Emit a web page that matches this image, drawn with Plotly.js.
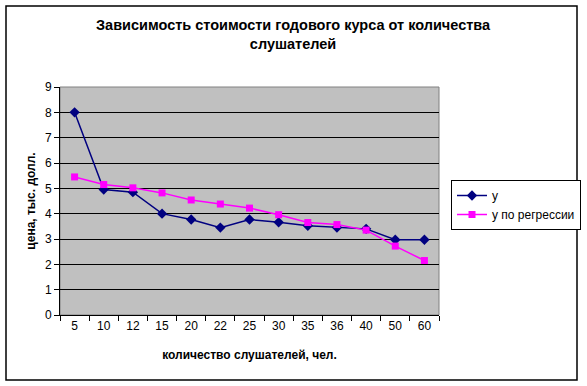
<!DOCTYPE html>
<html><head><meta charset="utf-8">
<script src="https://cdn.plot.ly/plotly-3.0.1.min.js"></script>
<style>html,body{margin:0;padding:0;background:#fff;}#chart{width:587px;height:386px;}</style>
</head><body><div id="chart"></div>
<script>
const categories = ["5","10","12","15","20","22","25","30","35","36","40","50","60"];
const yActual = [8, 4.95, 4.85, 4.0, 3.77, 3.45, 3.77, 3.66, 3.52, 3.45, 3.4, 2.97, 2.97];
const yRegression = [5.45, 5.15, 5.02, 4.82, 4.54, 4.38, 4.22, 3.96, 3.65, 3.57, 3.35, 2.72, 2.15];
const seriesNames = ["y", "y по регрессии"];
const titleText = 'Зависимость стоимости годового курса от количества<br>слушателей';

const L=60, R=439, T=87, B=315;
const W=587, H=386;
const pw=R-L, ph=B-T;
function px(x){return (x-L)/pw;}
function py(y){return (B-y)/ph;}

const traces = [
  {x: categories, y: yActual, name: seriesNames[0], type:'scatter', mode:'lines+markers',
   line:{color:'#000080', width:1.5}, marker:{symbol:'diamond', size:8, color:'#000080'}},
  {x: categories, y: yRegression, name: seriesNames[1], type:'scatter', mode:'lines+markers',
   line:{color:'#FF00FF', width:1.5}, marker:{symbol:'square', size:7, color:'#FF00FF'}}
];

const layout = {
  width: W, height: H,
  margin:{l:L, r:W-R, t:T, b:H-B, pad:0, autoexpand:false},
  paper_bgcolor:'#ffffff', plot_bgcolor:'#C0C0C0',
  font:{family:'Liberation Sans, Arial, sans-serif', size:12, color:'#000'},
  xaxis:{type:'category', range:[-0.5, categories.length-0.5], showgrid:false, showline:true, linecolor:'#000', linewidth:1,
    ticks:'outside', ticklen:5, tickcolor:'#000', tickson:'boundaries', mirror:false,
    tickfont:{size:12}, zeroline:false, fixedrange:true, automargin:false,
    title:{text:'<b>количество слушателей, чел.</b>', font:{size:12}, standoff:18}},
  yaxis:{range:[0,9], dtick:1, showgrid:true, gridcolor:'#000', gridwidth:1,
    showline:true, linecolor:'#000', linewidth:1, ticks:'outside', ticklen:5, tickcolor:'#000',
    zeroline:false, tickfont:{size:12}, fixedrange:true, automargin:false,
    title:{text:'<b>цена, тыс. долл.</b>', font:{size:12}, standoff:6}},
  legend:{x:px(451), y:py(180), xanchor:'left', yanchor:'top', bgcolor:'#fff',
    bordercolor:'#000', borderwidth:1, font:{size:12}, tracegroupgap:0, itemwidth:30},
  showlegend:true,
  annotations:[
    {text:'<b>'+titleText+'</b>', xref:'paper', yref:'paper', x:px(293), y:py(35), xanchor:'center', yanchor:'middle',
     showarrow:false, font:{size:14.5, family:'Liberation Sans, Arial, sans-serif'}, align:'center'}
  ],
  shapes:[
    {type:'rect', xref:'paper', yref:'paper', x0:0, x1:1, y0:0, y1:1, line:{color:'#808080', width:1}, layer:'below'},
    {type:'rect', xref:'paper', yref:'paper', x0:px(6), x1:px(577), y0:py(380), y1:py(6), line:{color:'#000', width:1.5}}
  ]
};
Plotly.newPlot('chart', traces, layout, {displayModeBar:false, staticPlot:true});
</script></body></html>
